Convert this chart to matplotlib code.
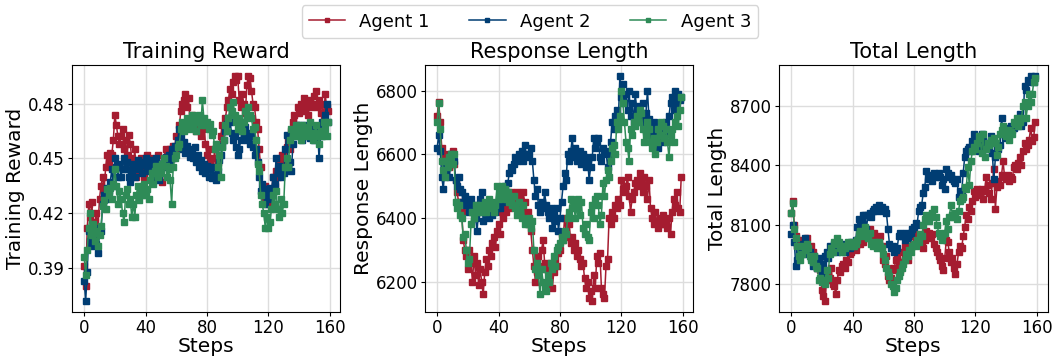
import numpy as np
import matplotlib
matplotlib.use("Agg")
import matplotlib.pyplot as plt

steps = np.arange(160)

# Training reward
reward_a1 = [
    0.391, 0.380, 0.412, 0.425, 0.418, 0.426, 0.410, 0.415, 0.420, 0.412,
    0.428, 0.435, 0.440, 0.433, 0.445, 0.452, 0.448, 0.453, 0.452, 0.460,
    0.474, 0.468, 0.462, 0.458, 0.462, 0.466, 0.455, 0.460, 0.452, 0.463,
    0.458, 0.450, 0.445, 0.455, 0.440, 0.448, 0.443, 0.450, 0.446, 0.440,
    0.447, 0.452, 0.444, 0.450, 0.446, 0.440, 0.448, 0.445, 0.452, 0.447,
    0.445, 0.437, 0.450, 0.455, 0.447, 0.452, 0.455, 0.450, 0.457, 0.455,
    0.462, 0.460, 0.468, 0.476, 0.480, 0.482, 0.485, 0.478, 0.483, 0.470,
    0.474, 0.468, 0.472, 0.465, 0.470, 0.468, 0.462, 0.466, 0.470, 0.458,
    0.452, 0.455, 0.448, 0.450, 0.445, 0.455, 0.440, 0.448, 0.458, 0.462,
    0.468, 0.465, 0.472, 0.478, 0.482, 0.488, 0.485, 0.492, 0.495, 0.493,
    0.495, 0.482, 0.478, 0.485, 0.480, 0.475, 0.490, 0.495, 0.494, 0.487,
    0.480, 0.478, 0.470, 0.466, 0.455, 0.445, 0.432, 0.428, 0.435, 0.430,
    0.425, 0.432, 0.428, 0.440, 0.435, 0.443, 0.440, 0.448, 0.445, 0.452,
    0.450, 0.447, 0.456, 0.460, 0.455, 0.465, 0.470, 0.474, 0.468, 0.478,
    0.475, 0.480, 0.478, 0.483, 0.476, 0.480, 0.474, 0.482, 0.478, 0.480,
    0.484, 0.487, 0.478, 0.482, 0.475, 0.480, 0.472, 0.485, 0.478, 0.476,
]
reward_a2 = [
    0.383, 0.372, 0.388, 0.410, 0.405, 0.402, 0.410, 0.407, 0.403, 0.398,
    0.412, 0.410, 0.425, 0.430, 0.428, 0.434, 0.432, 0.437, 0.444, 0.435,
    0.450, 0.445, 0.440, 0.447, 0.440, 0.444, 0.450, 0.444, 0.448, 0.440,
    0.437, 0.443, 0.447, 0.440, 0.446, 0.449, 0.444, 0.447, 0.442, 0.448,
    0.450, 0.446, 0.443, 0.449, 0.444, 0.448, 0.440, 0.450, 0.447, 0.438,
    0.447, 0.445, 0.448, 0.451, 0.447, 0.452, 0.448, 0.455, 0.450, 0.457,
    0.456, 0.460, 0.466, 0.462, 0.455, 0.459, 0.453, 0.457, 0.455, 0.451,
    0.454, 0.450, 0.456, 0.448, 0.452, 0.445, 0.449, 0.443, 0.447, 0.442,
    0.446, 0.440, 0.444, 0.439, 0.445, 0.441, 0.438, 0.443, 0.449, 0.452,
    0.457, 0.460, 0.465, 0.469, 0.472, 0.470, 0.464, 0.460, 0.462, 0.456,
    0.452, 0.455, 0.460, 0.465, 0.462, 0.467, 0.460, 0.464, 0.458, 0.462,
    0.456, 0.452, 0.455, 0.448, 0.440, 0.432, 0.436, 0.430, 0.425, 0.433,
    0.428, 0.434, 0.430, 0.440, 0.436, 0.450, 0.442, 0.446, 0.440, 0.444,
    0.442, 0.455, 0.463, 0.445, 0.448, 0.443, 0.458, 0.465, 0.462, 0.468,
    0.463, 0.466, 0.460, 0.468, 0.462, 0.465, 0.467, 0.461, 0.465, 0.466,
    0.460, 0.462, 0.466, 0.450, 0.462, 0.470, 0.468, 0.474, 0.480, 0.470,
]
reward_a3 = [
    0.396, 0.386, 0.400, 0.412, 0.420, 0.408, 0.414, 0.405, 0.410, 0.402,
    0.408, 0.413, 0.424, 0.427, 0.422, 0.433, 0.430, 0.434, 0.428, 0.436,
    0.444, 0.435, 0.425, 0.432, 0.428, 0.420, 0.415, 0.430, 0.433, 0.425,
    0.428, 0.418, 0.425, 0.418, 0.430, 0.435, 0.427, 0.433, 0.430, 0.436,
    0.430, 0.433, 0.428, 0.438, 0.442, 0.436, 0.443, 0.446, 0.440, 0.444,
    0.442, 0.447, 0.450, 0.446, 0.440, 0.444, 0.438, 0.425, 0.445, 0.450,
    0.452, 0.456, 0.458, 0.466, 0.470, 0.465, 0.468, 0.472, 0.466, 0.470,
    0.474, 0.468, 0.471, 0.465, 0.470, 0.474, 0.468, 0.482, 0.472, 0.468,
    0.470, 0.466, 0.469, 0.463, 0.465, 0.455, 0.458, 0.445, 0.452, 0.440,
    0.456, 0.460, 0.468, 0.465, 0.472, 0.478, 0.476, 0.481, 0.474, 0.470,
    0.466, 0.472, 0.468, 0.465, 0.470, 0.476, 0.473, 0.478, 0.474, 0.472,
    0.466, 0.467, 0.460, 0.447, 0.443, 0.430, 0.425, 0.420, 0.412, 0.418,
    0.412, 0.415, 0.422, 0.430, 0.425, 0.432, 0.422, 0.418, 0.428, 0.420,
    0.425, 0.445, 0.450, 0.445, 0.460, 0.466, 0.462, 0.465, 0.468, 0.462,
    0.466, 0.460, 0.468, 0.463, 0.467, 0.462, 0.466, 0.470, 0.464, 0.460,
    0.464, 0.468, 0.462, 0.458, 0.465, 0.462, 0.470, 0.466, 0.462, 0.470,
]

# Response length
resp_a1 = [
    6720, 6765, 6700, 6620, 6580, 6600, 6560, 6580, 6560, 6600,
    6610, 6570, 6520, 6480, 6450, 6450, 6420, 6330, 6300, 6280,
    6240, 6300, 6260, 6200, 6280, 6220, 6260, 6190, 6240, 6200,
    6160, 6230, 6270, 6250, 6300, 6280, 6320, 6340, 6310, 6360,
    6380, 6350, 6420, 6400, 6440, 6420, 6450, 6430, 6480, 6460,
    6450, 6470, 6480, 6440, 6460, 6430, 6480, 6450, 6410, 6420,
    6380, 6360, 6300, 6250, 6200, 6230, 6280, 6250, 6300, 6330,
    6260, 6240, 6200, 6220, 6260, 6180, 6230, 6270, 6250, 6290,
    6300, 6350, 6330, 6400, 6360, 6340, 6380, 6320, 6340, 6300,
    6320, 6280, 6300, 6270, 6250, 6260, 6210, 6180, 6200, 6150,
    6170, 6140, 6220, 6180, 6280, 6260, 6290, 6180, 6160, 6150,
    6250, 6270, 6400, 6380, 6420, 6400, 6440, 6430, 6460, 6440,
    6520, 6490, 6480, 6500, 6530, 6470, 6420, 6460, 6480, 6510,
    6520, 6500, 6540, 6510, 6480, 6530, 6500, 6460, 6520, 6430,
    6400, 6380, 6420, 6390, 6370, 6400, 6380, 6410, 6380, 6390,
    6370, 6400, 6350, 6420, 6460, 6440, 6480, 6430, 6420, 6530,
]
resp_a2 = [
    6620, 6660, 6610, 6530, 6490, 6560, 6540, 6570, 6530, 6600,
    6590, 6580, 6520, 6500, 6530, 6490, 6480, 6450, 6470, 6440,
    6450, 6420, 6460, 6430, 6440, 6400, 6360, 6420, 6460, 6480,
    6390, 6440, 6410, 6430, 6400, 6420, 6410, 6440, 6420, 6430,
    6440, 6430, 6450, 6470, 6500, 6480, 6510, 6540, 6560, 6550,
    6570, 6590, 6580, 6600, 6590, 6610, 6580, 6630, 6600, 6590,
    6600, 6620, 6580, 6520, 6470, 6490, 6440, 6420, 6450, 6430,
    6480, 6440, 6420, 6400, 6430, 6370, 6410, 6390, 6430, 6360,
    6400, 6450, 6500, 6540, 6520, 6600, 6580, 6610, 6650, 6590,
    6620, 6580, 6600, 6610, 6570, 6600, 6590, 6560, 6580, 6520,
    6560, 6590, 6650, 6620, 6640, 6650, 6590, 6580, 6620, 6600,
    6610, 6560, 6600, 6640, 6700, 6680, 6720, 6740, 6700, 6845,
    6780, 6820, 6760, 6790, 6740, 6800, 6720, 6760, 6700, 6790,
    6740, 6750, 6700, 6720, 6760, 6690, 6730, 6800, 6710, 6680,
    6660, 6700, 6640, 6680, 6620, 6650, 6680, 6640, 6660, 6700,
    6670, 6720, 6760, 6780, 6740, 6800, 6760, 6790, 6770, 6780,
]
resp_a3 = [
    6700, 6760, 6680, 6580, 6550, 6530, 6580, 6560, 6590, 6600,
    6570, 6600, 6450, 6430, 6440, 6410, 6400, 6340, 6350, 6300,
    6260, 6270, 6380, 6420, 6400, 6440, 6420, 6430, 6440, 6420,
    6430, 6450, 6420, 6440, 6460, 6430, 6450, 6420, 6440, 6500,
    6460, 6480, 6500, 6470, 6490, 6460, 6480, 6450, 6460, 6440,
    6470, 6430, 6410, 6450, 6420, 6400, 6440, 6380, 6390, 6380,
    6400, 6370, 6390, 6300, 6240, 6260, 6220, 6160, 6240, 6200,
    6180, 6170, 6220, 6200, 6260, 6240, 6280, 6250, 6300, 6310,
    6320, 6340, 6330, 6360, 6350, 6400, 6420, 6460, 6430, 6440,
    6400, 6430, 6460, 6410, 6450, 6370, 6350, 6380, 6340, 6330,
    6420, 6440, 6400, 6460, 6470, 6440, 6380, 6410, 6510, 6470,
    6520, 6550, 6530, 6580, 6620, 6630, 6600, 6700, 6680, 6720,
    6800, 6760, 6700, 6640, 6620, 6580, 6680, 6660, 6700, 6690,
    6720, 6700, 6740, 6730, 6680, 6640, 6660, 6700, 6680, 6640,
    6620, 6650, 6600, 6640, 6680, 6660, 6700, 6690, 6650, 6680,
    6640, 6590, 6660, 6680, 6640, 6700, 6720, 6690, 6740, 6780,
]

# Total length
total_a1 = [
    8160, 8220, 8100, 8040, 7990, 8020, 7980, 8010, 7990, 8000,
    8030, 7980, 7950, 7990, 7960, 7900, 7910, 7880, 7900, 7870,
    7770, 7740, 7715, 7820, 7860, 7830, 7880, 7800, 7790, 7750,
    7820, 7870, 7860, 7890, 7900, 7880, 7920, 7910, 7950, 7960,
    7980, 7990, 7970, 8000, 8010, 8000, 8020, 8010, 8050, 8030,
    8060, 8080, 8040, 8020, 8060, 8000, 8030, 8020, 8040, 7990,
    7920, 7900, 7940, 7840, 7820, 7830, 7880, 7870, 7920, 7940,
    7890, 7870, 7910, 7960, 7990, 7950, 7920, 7980, 8040, 8060,
    8040, 8020, 8050, 8010, 8030, 8000, 7980, 8020, 8070, 8040,
    8060, 8030, 8050, 8000, 7980, 7960, 7940, 7920, 7890, 7870,
    7930, 8020, 8010, 7960, 7910, 7930, 7880, 7850, 7900, 7960,
    7990, 7980, 8040, 8090, 8150, 8130, 8190, 8170, 8220, 8270,
    8240, 8280, 8260, 8250, 8280, 8230, 8270, 8340, 8300, 8260,
    8230, 8310, 8380, 8180, 8290, 8320, 8300, 8350, 8420, 8340,
    8330, 8350, 8320, 8340, 8330, 8390, 8400, 8380, 8410, 8440,
    8400, 8470, 8510, 8480, 8500, 8530, 8590, 8520, 8545, 8620,
]
total_a2 = [
    8050, 8100, 8010, 7890, 7920, 7960, 7980, 7950, 8000, 8030,
    7980, 7950, 7960, 7930, 7890, 7940, 7910, 7880, 7930, 7880,
    7850, 7900, 7940, 7960, 7930, 7990, 7960, 7980, 8000, 7970,
    7960, 7990, 7970, 8000, 7980, 7960, 7990, 8000, 7980, 8010,
    8000, 7990, 8020, 8090, 8130, 8100, 8120, 8150, 8150, 8080,
    8150, 8160, 8140, 8170, 8180, 8190, 8170, 8200, 8180, 8190,
    8170, 8180, 8160, 8080, 8000, 7980, 7990, 7960, 7970, 7980,
    8040, 8060, 8040, 8050, 8020, 8060, 8030, 8050, 8060, 8080,
    8090, 8110, 8100, 8170, 8190, 8200, 8260, 8290, 8370, 8340,
    8330, 8350, 8320, 8360, 8340, 8350, 8360, 8340, 8300, 8330,
    8280, 8380, 8360, 8340, 8350, 8330, 8320, 8310, 8330, 8240,
    8270, 8260, 8360, 8440, 8470, 8480, 8490, 8470, 8520, 8560,
    8510, 8490, 8470, 8500, 8560, 8520, 8500, 8480, 8510, 8490,
    8550, 8460, 8330, 8440, 8490, 8480, 8500, 8640, 8560, 8540,
    8580, 8560, 8590, 8600, 8580, 8590, 8600, 8620, 8610, 8660,
    8600, 8620, 8800, 8780, 8830, 8820, 8850, 8840, 8820, 8850,
]
total_a3 = [
    8160, 8210, 8080, 8030, 7990, 7940, 7920, 7950, 7990, 7970,
    8000, 7980, 7940, 7920, 7910, 7940, 7890, 7880, 7820, 7830,
    7810, 7820, 7800, 7870, 7830, 7950, 7980, 7960, 8010, 8000,
    8030, 8010, 7980, 7960, 7990, 7980, 7990, 8010, 8000, 7990,
    8010, 7990, 8000, 8020, 8050, 8070, 8060, 8040, 8090, 8050,
    8030, 8060, 8000, 7990, 8010, 8000, 7980, 8010, 7990, 7980,
    7950, 7920, 7880, 7860, 7840, 7800, 7790, 7760, 7780, 7820,
    7840, 7860, 7880, 7900, 7920, 7950, 7940, 7970, 7960, 7990,
    8000, 7990, 8020, 8010, 8050, 8040, 8100, 8130, 8150, 8140,
    8120, 8150, 8160, 8180, 8140, 8100, 8060, 8040, 8020, 8050,
    8060, 8120, 8080, 8140, 8200, 8150, 8140, 8160, 8130, 8170,
    8220, 8230, 8240, 8290, 8280, 8390, 8300, 8420, 8470, 8490,
    8480, 8510, 8550, 8540, 8460, 8560, 8440, 8480, 8510, 8500,
    8530, 8520, 8540, 8510, 8450, 8490, 8560, 8580, 8600, 8570,
    8550, 8580, 8530, 8570, 8560, 8620, 8610, 8640, 8600, 8620,
    8640, 8700, 8720, 8640, 8700, 8760, 8720, 8760, 8820, 8840,
]

agents = ["Agent 1", "Agent 2", "Agent 3"]
colors = ["#A51C30", "#003D73", "#2E8B57"]

panels = [
    ("Training Reward", [reward_a1, reward_a2, reward_a3], [0.39, 0.42, 0.45, 0.48], "{:.2f}"),
    ("Response Length", [resp_a1, resp_a2, resp_a3], [6200, 6400, 6600, 6800], "{:.0f}"),
    ("Total Length", [total_a1, total_a2, total_a3], [7800, 8100, 8400, 8700], "{:.0f}"),
]
xticks = [0, 40, 80, 120, 160]

fig = plt.figure(figsize=(10.55, 3.58), dpi=100)
lefts = [0.0682, 0.4028, 0.7384]
w, b, h = 0.2545, 0.1285, 0.690

for left, (title, series, yticks, fmt) in zip(lefts, panels):
    ax = fig.add_axes([left, b, w, h])
    for name, vals, c in zip(agents, series, colors):
        ax.plot(steps, vals, color=c, marker="s", markersize=4, linewidth=1.1, label=name)
    ax.set_title(title, fontsize=15, pad=5)
    ax.set_xlabel("Steps", fontsize=14.5, labelpad=0)
    ax.set_ylabel(title, fontsize=14.5, labelpad=2)
    ax.set_xticks(xticks)
    ax.set_yticks(yticks)
    ax.set_yticklabels([fmt.format(v) for v in yticks])
    ax.tick_params(labelsize=12, length=3, pad=2)
    ax.grid(True, color="#dddddd", linewidth=1)
    ax.set_axisbelow(True)

handles, labels = ax.get_legend_handles_labels()
fig.legend(handles, labels, loc="upper center", bbox_to_anchor=(0.5024, 1.0),
           ncol=3, fontsize=13, columnspacing=2.2, handlelength=2.0,
           borderaxespad=0.3, markerscale=0.8)

fig.savefig("out.png", dpi=100)
